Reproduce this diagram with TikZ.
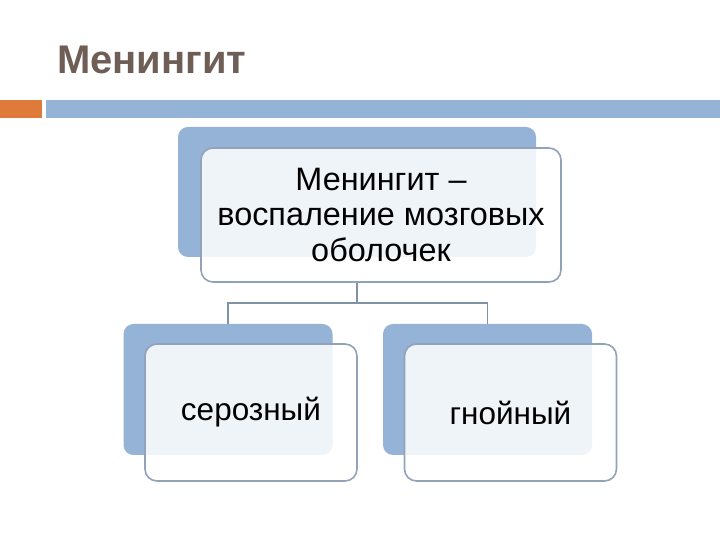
\documentclass[tikz,border=0pt]{standalone}
\usepackage{fontspec}
\setmainfont{Liberation Sans}
\usepackage{tikz}
\usetikzlibrary{positioning, arrows.meta}

\definecolor{slidetitle}{RGB}{110,94,86}
\definecolor{barorange}{RGB}{222,122,58}
\definecolor{barblue}{RGB}{149,179,215}
\definecolor{backblue}{RGB}{148,179,214}
\definecolor{frontedge}{RGB}{146,163,185}
\definecolor{connline}{RGB}{128,146,166}

\tikzset{
    backbox/.style={fill=backblue, rounded corners=10pt, inner sep=0pt},
    frontbox/.style={draw=frontedge, line width=1.6pt, fill=white, fill opacity=0.86,
        text opacity=1, rounded corners=12pt, inner sep=0pt, align=center,
        font=\fontsize{31.5}{35}\selectfont},
    conn/.style={draw=connline, line width=1.5pt}
}

\begin{document}
\begin{tikzpicture}[x=1pt, y=1pt]
                \useasboundingbox (0,0) rectangle (720,540);
                
                %Title and bars
                \node[anchor=base west, inner sep=0pt, text=slidetitle,
                    font=\fontsize{40}{40}\selectfont\bfseries] (title) at (57,466) {Менингит};
                \fill[barorange] (0,422) rectangle (42,440);
                \fill[barblue] (46,422) rectangle (720,440);
                
                %Top box
                \node[backbox, minimum width=358pt, minimum height=130pt] (topback) at (357,348) {};
                \node[frontbox, minimum width=360pt, minimum height=134pt,
                    font=\fontsize{32.4}{35.5}\selectfont] (topfront)
                    at ([shift={(24pt,-23pt)}]topback.center) {Менингит --\\воспаление мозговых\\оболочек};
                
                %Child boxes
                \foreach \name/\x/\descr in {ser/228/серозный, gn/487.5/гнойный}{
                \node[backbox, minimum width=209pt, minimum height=131pt] (\name back) at (\x,150.5) {};
                \node[frontbox, minimum width=212pt, minimum height=137pt] (\name front)
                    at ([shift={(23pt,-23pt)}]\name back.center) {\raisebox{-3pt}{\descr}};
                }
                
                %Connectors
                \draw[conn] (topback.south |- topfront.south) -- ++(0,-20) coordinate (split);
                \draw[conn] (split) -| (serback.north);
                \draw[conn] (split) -| (gnback.north);
                
            \end{tikzpicture}
\end{document}
